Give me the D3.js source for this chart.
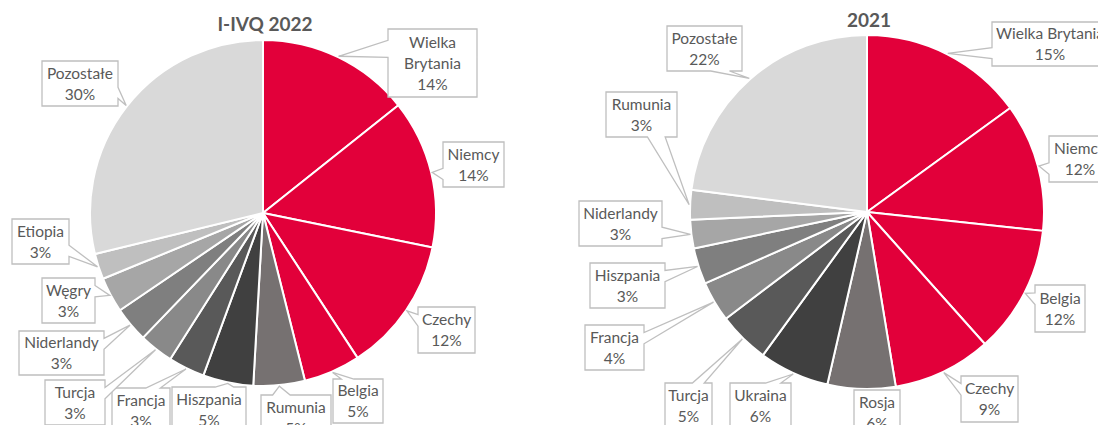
<!DOCTYPE html>
<html>
<head>
<meta charset="utf-8">
<script src="https://cdn.jsdelivr.net/npm/d3@7"></script>
<style>
  body { margin: 0; background: #fff; }
  svg text { font-family: Lato, "Open Sans", sans-serif; fill: #595959; }
</style>
</head>
<body>
<div id="chart"></div>
<script>
// two pie charts: I-IVQ 2022 (left) and 2021 (right)

// left pie data, clockwise from 12 o'clock
var left_names = ["Wielka\nBrytania", "Niemcy", "Czechy", "Belgia", "Rumunia", "Hiszpania",
  "Francja", "Turcja", "Niderlandy", "Węgry", "Etiopia", "Pozostałe"];
var left_share = [14.3, 13.9, 12.6, 5.3, 4.8, 4.7, 3.4, 3.2, 3.3, 3.3, 2.4, 28.8];
var left_pct = ["14%", "14%", "12%", "5%", "5%", "5%", "3%", "3%", "3%", "3%", "3%", "30%"];

// right pie data
var right_names = ["Wielka Brytania", "Niemcy", "Belgia", "Czechy", "Rosja", "Ukraina",
  "Turcja", "Francja", "Hiszpania", "Niderlandy", "Rumunia", "Pozostałe"];
var right_share = [15.0, 11.7, 11.7, 9.0, 6.2, 6.4, 4.7, 3.7, 3.3, 2.6, 2.7, 23.0];
var right_pct = ["15%", "12%", "12%", "9%", "6%", "6%", "5%", "4%", "3%", "3%", "3%", "22%"];

// slice colours (same palette order in both pies)
var red = "#E2003A";
var pie_colors = [red, red, red, red, "#767171", "#404040", "#595959", "#898989",
  "#7F7F7F", "#A6A6A6", "#BFBFBF", "#D9D9D9"];

// callout boxes [x, y, w, h]
var left_boxes = [
  [388, 29, 89, 68], [443, 142, 61, 45], [418, 307, 57, 46], [333, 379, 50, 44],
  [261, 395, 70, 45], [172, 387, 74, 45], [112, 388, 58, 45], [45, 380, 60, 45],
  [19, 331, 85, 44], [42, 278, 53, 45], [12, 219, 57, 45], [42, 61, 76, 45]
];
var right_boxes = [
  [992, 22, 116, 44], [1049, 136, 62, 46], [1035, 285, 50, 47], [961, 376, 57, 46],
  [854, 390, 46, 45], [730, 383, 61, 45], [665, 383, 47, 45], [585, 325, 59, 45],
  [590, 263, 75, 45], [579, 201, 83, 45], [606, 92, 71, 45], [667, 26, 75, 45]
];

var svgWidth = 1098;
var svgHeight = 425;

var svg = d3.select("#chart")
  .append("svg")
  .attr("width", svgWidth)
  .attr("height", svgHeight);

// Excel style rectangular callout with a wedge pointing at (tx, ty)
function calloutPath(b, tx, ty) {
  var x = b[0], y = b[1], w = b[2], h = b[3];
  var hc = x + w / 2, vc = y + h / 2;
  var dx = tx - hc, dy = ty - vc;
  var dz = Math.abs(dy) - Math.abs(dx * h / w);
  var x1 = x + w * (dx > 0 ? 7 : 2) / 12, x2 = x + w * (dx > 0 ? 10 : 5) / 12;
  var y1 = y + h * (dy > 0 ? 7 : 2) / 12, y2 = y + h * (dy > 0 ? 10 : 5) / 12;
  var p = d3.path();
  p.moveTo(x, y);
  if (dz > 0 && dy < 0) { p.lineTo(x1, y); p.lineTo(tx, ty); p.lineTo(x2, y); }
  p.lineTo(x + w, y);
  if (dz <= 0 && dx > 0) { p.lineTo(x + w, y1); p.lineTo(tx, ty); p.lineTo(x + w, y2); }
  p.lineTo(x + w, y + h);
  if (dz > 0 && dy > 0) { p.lineTo(x2, y + h); p.lineTo(tx, ty); p.lineTo(x1, y + h); }
  p.lineTo(x, y + h);
  if (dz <= 0 && dx <= 0) { p.lineTo(x, y2); p.lineTo(tx, ty); p.lineTo(x, y1); }
  p.closePath();
  return p.toString();
}

function drawPie(cx, cy, radius, title, titleY, names, share, pct, boxes) {
  var pie = d3.pie().sort(null).value(d => d);
  var arcs = pie(share);
  var arc = d3.arc().innerRadius(0).outerRadius(radius);

  var g = svg.append("g").attr("transform", `translate(${cx}, ${cy})`);

  g.selectAll("path")
    .data(arcs)
    .enter()
    .append("path")
    .attr("d", arc)
    .attr("fill", (d, i) => pie_colors[i])
    .attr("stroke", "#fff")
    .attr("stroke-width", 2)
    .attr("stroke-linejoin", "round");

  svg.append("text")
    .attr("x", cx + 2)
    .attr("y", titleY)
    .attr("text-anchor", "middle")
    .attr("font-size", "19px")
    .attr("font-weight", "bold")
    .text(title);

  // labels
  arcs.forEach(function(d, i) {
    var mid = (d.startAngle + d.endAngle) / 2;
    var tx = cx + (radius + 1) * Math.sin(mid);
    var ty = cy - (radius + 1) * Math.cos(mid);
    var b = boxes[i];

    svg.append("path")
      .attr("d", calloutPath(b, tx, ty))
      .attr("fill", "#fff")
      .attr("stroke", "#BFBFBF")
      .attr("stroke-width", 1.3);

    var lines = names[i].split("\n").concat([pct[i]]);
    var top = b[1] + (b[3] - (lines.length - 1) * 21) / 2;
    lines.forEach(function(line, j) {
      svg.append("text")
        .attr("x", b[0] + b[2] / 2)
        .attr("y", top + j * 21)
        .attr("dy", "0.36em")
        .attr("text-anchor", "middle")
        .attr("font-size", "15.5px")
        .text(line);
    });
  });
}

drawPie(263, 213, 173, "I-IVQ 2022", 31, left_names, left_share, left_pct, left_boxes);
drawPie(867, 212, 177, "2021", 27, right_names, right_share, right_pct, right_boxes);
</script>
</body>
</html>
